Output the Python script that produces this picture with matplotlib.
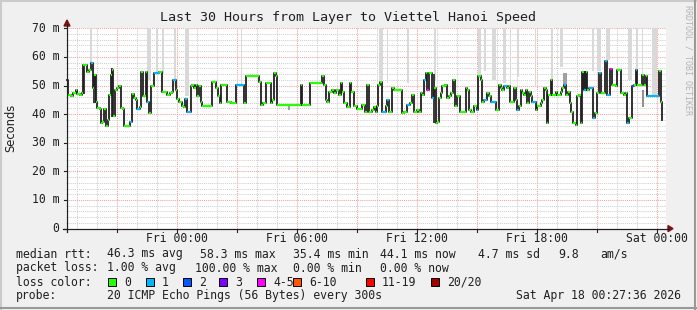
import matplotlib
matplotlib.use('Agg')
import matplotlib.pyplot as plt
from matplotlib.lines import Line2D
from matplotlib.patches import Rectangle, Polygon

W, H = 697, 310
MONO = 'DejaVu Sans Mono'

title = 'Last 30 Hours from Layer to Viettel Hanoi Speed'

# median rtt: minutes after Thu 18:00 -> ms
t_min = [31, 34, 41, 49, 56, 61, 69, 76, 79, 91, 96, 101, 109, 111, 118, 121, 129, 131, 136, 141,
         148, 153, 156, 161, 166, 169, 173, 179, 186, 191, 199, 201, 218, 224, 231, 236, 241, 249, 253, 257,
         261, 266, 271, 276, 283, 291, 306, 316, 331, 339, 346, 349, 356, 361, 366, 371, 376, 381, 384, 391,
         401, 406, 411, 416, 421, 426, 431, 436, 466, 476, 483, 489, 493, 511, 521, 536, 561, 566, 606, 611,
         619, 626, 641, 646, 651, 656, 661, 731, 736, 759, 796, 801, 806, 811, 816, 826, 831, 836, 846, 851,
         856, 861, 871, 879, 883, 891, 901, 916, 924,
         931, 936, 946, 951, 956, 961, 964, 969, 976, 987, 991, 996, 1006, 1011, 1036, 1041, 1051, 1059, 1066, 1071,
         1081, 1086, 1091, 1096, 1101, 1106, 1111, 1116, 1126, 1131, 1136, 1141, 1146, 1151, 1156, 1163, 1169, 1176, 1183, 1187,
         1193, 1201, 1209, 1226, 1231, 1236, 1241, 1251, 1261, 1264, 1271, 1276, 1281, 1289, 1296, 1303, 1316, 1326, 1331, 1336,
         1341, 1349, 1356, 1359, 1371, 1376, 1381, 1386, 1391, 1396, 1401, 1406, 1411, 1416, 1421, 1426, 1436, 1441, 1451, 1456,
         1461, 1466, 1469, 1473, 1481, 1486, 1496, 1501, 1511, 1516, 1521, 1526, 1533, 1539, 1543, 1549, 1556, 1561, 1566, 1573,
         1576, 1581, 1586, 1591, 1596, 1609, 1613, 1621, 1626, 1633, 1643, 1649, 1659, 1666, 1676, 1681, 1691, 1701, 1706, 1711,
         1716, 1726, 1731, 1736, 1741, 1756, 1761, 1766, 1771, 1806, 1812, 1814]
median_ms = [52.0, 46.8, 46.4, 47.3, 48.3, 47.1, 46.8, 47.3, 57.0, 54.6, 55.5, 57.8, 49.1, 53.8, 44.4, 42.1, 41.7, 36.8, 37.4, 41.7,
             35.7, 38.0, 46.8, 53.8, 55.5, 39.2, 48.5, 49.1, 49.7, 42.1, 41.7, 35.9, 37.1, 47.1, 45.6, 45.0, 41.7, 42.4, 54.9, 46.2,
             46.4, 54.9, 44.4, 40.3, 49.7, 54.3, 54.6, 47.9, 46.8, 47.3, 47.9, 52.0, 48.5, 45.2, 44.1, 44.4, 42.7, 42.4, 45.2, 40.9,
             49.7, 50.3, 49.1, 50.3, 46.2, 49.7, 44.4, 42.7, 51.1, 49.1, 46.2, 43.8, 50.3, 44.4, 43.8, 50.3, 43.8, 53.2, 51.1, 43.3,
             43.8, 50.8, 43.8, 45.0, 54.3, 53.2, 43.3, 50.3, 43.3, 50.8, 53.2, 50.3, 45.0, 44.4, 47.9, 48.3, 47.3, 48.3, 46.8, 50.8,
             47.9, 43.8, 42.4, 50.8, 47.9, 42.7, 41.7, 43.3, 40.9,
             50.3, 40.9, 41.5, 42.4, 40.6, 42.7, 50.3, 51.1, 40.9, 42.7, 45.0, 40.9, 49.1, 48.5, 40.3, 40.9, 43.3, 43.8, 46.8, 40.9,
             41.5, 40.9, 47.3, 46.8, 52.0, 54.3, 48.5, 54.3, 45.6, 49.1, 36.8, 37.4, 45.6, 47.3, 49.7, 50.3, 45.6, 46.2, 47.3, 52.0,
             42.7, 46.2, 40.9, 49.1, 48.5, 41.5, 40.9, 42.7, 41.5, 53.2, 52.0, 44.4, 45.0, 47.3, 46.2, 44.4, 41.5, 50.3, 49.1, 48.5,
             49.7, 49.1, 49.7, 44.4, 49.1, 45.0, 41.5, 42.7, 48.5, 47.3, 46.8, 48.5, 43.8, 47.9, 46.2, 44.4, 41.5, 42.7, 43.8, 45.0,
             49.1, 48.5, 36.8, 46.8, 52.0, 46.8, 47.9, 46.8, 47.9, 49.1, 50.3, 46.8, 47.9, 43.8, 40.9, 36.8, 36.3, 46.2, 46.8, 36.8,
             54.9, 48.5, 54.9, 48.5, 49.1, 38.6, 40.3, 47.3, 54.3, 47.3, 58.4, 46.8, 55.8, 50.3, 49.7, 55.5, 47.3, 46.8, 47.3, 36.8,
             38.6, 49.7, 50.3, 55.5, 50.3, 53.8, 50.3, 53.2, 46.2, 55.0, 44.4, 38.0]
t_stop = 1815

# steps with lost pings (minute, pings lost out of 20)
loss_t = [101, 218, 241, 271, 291, 349, 384, 391, 536, 976, 991, 1051, 1101, 1111, 1126, 1261, 1281, 1303,
          1341, 1381, 1426, 1521, 1581, 1596, 1609, 1626, 1643, 1649, 1659, 1711, 1726, 1736, 1771]
loss_n = [1, 1, 1, 1, 1, 1, 1, 1, 1, 1, 1, 1, 1, 4, 1, 1, 1, 1,
          1, 1, 1, 1, 1, 1, 1, 1, 1, 1, 4, 1, 2, 1, 1]

# light smoke: slow pings reaching past the top of the graph
out_t0 = [98, 270, 297, 315, 351, 384, 552, 966, 990, 1050, 1131, 1263, 1281, 1305, 1338, 1359, 1380, 1434,
          1482, 1509, 1605, 1620, 1647, 1713, 1737, 1755, 1785]
out_t1 = [104, 282, 304, 321, 357, 396, 555, 978, 994, 1056, 1137, 1272, 1287, 1317, 1347, 1362, 1386, 1437,
          1488, 1518, 1611, 1632, 1659, 1725, 1743, 1758, 1800]
out_lo = [58, 52, 54.5, 54, 50, 46.5, 50.5, 52, 51, 51, 52, 52.5, 55, 52, 51, 50, 53, 50,
          51, 56.5, 55, 55, 59, 52, 55.5, 53, 46.5]

# dark smoke close to the median
dark_t0 = [79, 109, 161, 1129, 1575, 693, 1517, 1755]
dark_t1 = [84, 116, 169, 1134, 1588, 699, 1529, 1760]
dark_lo = [47, 44, 39, 37, 48.5, 41.5, 49.5, 42.5]
dark_hi = [57.5, 54, 56, 54, 55, 43.3, 54.5, 48.5]
dark_col = ['#3c3c3c', '#3c3c3c', '#3c3c3c', '#3c3c3c', '#3c3c3c', '#a0a0a0', '#a0a0a0', '#909090']

x_start, x_end = 27.6, 1827.6       # Thu 18:27:36 .. Sat 00:27:36
tick_min = [360, 720, 1080, 1440, 1800]
tick_labels = ['Fri 00:00', 'Fri 06:00', 'Fri 12:00', 'Fri 18:00', 'Sat 00:00']
y_ticks = [0, 10, 20, 30, 40, 50, 60, 70]
y_labels = ['0', '10 m', '20 m', '30 m', '40 m', '50 m', '60 m', '70 m']

loss_names = ['0', '1', '2', '3', '4-5', '6-10', '11-19', '20/20']
loss_upper = [0, 1, 2, 3, 5, 10, 19, 20]
loss_colors = ['#26ff00', '#00b8ff', '#0059ff', '#7e00ff', '#ff00ff', '#ff5500', '#ff0000', '#a00000']

rtt_items = ['median rtt:', '46.3 ms avg', '58.3 ms max', '35.4 ms min', '44.1 ms now', '4.7 ms sd', '9.8', 'am/s']
rtt_x = [16, 107, 200, 293, 380, 478, 558, 600]
pl_items = ['packet loss:', '1.00 % avg', '100.00 % max', '0.00 % min', '0.00 % now']
pl_x = [16, 107, 195, 293, 380]
probe = '20 ICMP Echo Pings (56 Bytes) every 300s'
stamp = 'Sat Apr 18 00:27:36 2026'


def fx(x):
    return x / W


def fy(y):
    return 1 - y / H


def loss_color(n):
    for up, c in zip(loss_upper, loss_colors):
        if n <= up:
            return c
    return loss_colors[-1]


fig = plt.figure(figsize=(W / 100, H / 100), dpi=100, facecolor='#f0f0f0')

# frame (rrdtool style shading)
fig.add_artist(Line2D([fx(1), fx(1)], [fy(0), fy(H)], color='#cbcbcb', lw=1.5))
fig.add_artist(Line2D([fx(0), fx(W)], [fy(1), fy(1)], color='#cbcbcb', lw=1.5))
fig.add_artist(Line2D([fx(W - 2), fx(W - 2)], [fy(0), fy(H)], color='#999999', lw=1.5))
fig.add_artist(Line2D([fx(0), fx(W)], [fy(H - 2), fy(H - 2)], color='#999999', lw=1.5))

x0, x1 = 66.2, 666.2
y_top, y_bot = 28.3, 228.6
ax = fig.add_axes([fx(x0), fy(y_bot), (x1 - x0) / W, (y_bot - y_top) / H])
ax.set_facecolor('white')
ax.set_xlim(x_start, x_end)
ax.set_ylim(0, 70)
for s in ax.spines.values():
    s.set_visible(False)
ax.set_xticks([])
ax.set_yticks([])

dot = (0, (1, 1))
for m in range(60, 1860, 60):
    if m % 180 == 0:
        ax.axvline(m, color='#f2a0a0', lw=0.75, ls=dot, zorder=1)
    else:
        ax.axvline(m, color='#cfcfcf', lw=0.75, ls=dot, zorder=1)
for v in range(2, 71, 2):
    if v % 10 == 0:
        ax.axhline(v, color='#f2a0a0', lw=0.75, ls=dot, zorder=1)
    else:
        ax.axhline(v, color='#cfcfcf', lw=0.75, ls=dot, zorder=1)

# smoke
ax.bar(out_t0, [75 - lo for lo in out_lo], width=[b - a for a, b in zip(out_t0, out_t1)],
       bottom=out_lo, align='edge', color='#d9d9d9', lw=0, zorder=2)
ax.bar(dark_t0, [h - l for l, h in zip(dark_lo, dark_hi)], width=[b - a for a, b in zip(dark_t0, dark_t1)],
       bottom=dark_lo, align='edge', color=dark_col, lw=0, zorder=3)

# median: black connections, loss coloured steps
t_next = t_min[1:] + [t_stop]
ax.step(t_min + [t_stop], median_ms + [median_ms[-1]], where='post', color='#202020', lw=1.3, zorder=4)
loss = dict(zip(loss_t, loss_n))
cols = [loss_color(loss.get(t, 0)) for t in t_min]
ax.hlines(median_ms[:-1], t_min[:-1], t_next[:-1], colors=cols[:-1], lw=1.6, zorder=5)

# axes lines with arrows
fig.add_artist(Line2D([fx(63), fx(669)], [fy(y_bot), fy(y_bot)], color='#202020', lw=0.9))
fig.add_artist(Line2D([fx(x0 + 0.8), fx(x0 + 0.8)], [fy(232), fy(24)], color='#202020', lw=0.9))
fig.add_artist(Polygon([[fx(668), fy(y_bot - 3)], [fx(668), fy(y_bot + 3)], [fx(673), fy(y_bot)]],
                       closed=True, color='#7f1010', transform=fig.transFigure))
fig.add_artist(Polygon([[fx(x0 - 2.2), fy(26)], [fx(x0 + 3.8), fy(26)], [fx(x0 + 0.8), fy(20)]],
                       closed=True, color='#7f1010', transform=fig.transFigure))

# ticks and labels
for m in range(180, 1860, 180):
    x = x0 + (m - x_start) / (x_end - x_start) * (x1 - x0)
    fig.add_artist(Line2D([fx(x), fx(x)], [fy(y_bot), fy(y_bot + 3)], color='#202020', lw=0.8))
for m, lab in zip(tick_min, tick_labels):
    x = x0 + (m - x_start) / (x_end - x_start) * (x1 - x0)
    fig.text(fx(x), fy(238), lab, family=MONO, fontsize=8.3, ha='center', va='center', color='#202020')
for v, lab in zip(y_ticks, y_labels):
    y = y_bot - v / 70 * (y_bot - y_top)
    fig.add_artist(Line2D([fx(x0 - 2), fx(x0)], [fy(y), fy(y)], color='#202020', lw=0.8))
    fig.text(fx(59.5), fy(y), lab, family=MONO, fontsize=8.3, ha='right', va='center', color='#202020')

fig.text(fx(348), fy(18), title, family=MONO, fontsize=9.6, ha='center', va='center', color='#202020')
fig.text(fx(10.5), fy(128), 'Seconds', fontsize=8.3, rotation=90, ha='center', va='center', color='#202020')
fig.text(fx(688), fy(5), 'RRDTOOL / TOBI OETIKER', family=MONO, fontsize=6, rotation=270,
         ha='center', va='top', color='#b4b4b4')

# legend rows
for x, s in zip(rtt_x, rtt_items):
    fig.text(fx(x), fy(254), s, family=MONO, fontsize=8.3, ha='left', va='center', color='#202020')
for x, s in zip(pl_x, pl_items):
    fig.text(fx(x), fy(268), s, family=MONO, fontsize=8.3, ha='left', va='center', color='#202020')
fig.text(fx(16), fy(282), 'loss color:', family=MONO, fontsize=8.3, ha='left', va='center', color='#202020')
sq_x = [108, 146, 183, 219, 257, 293, 366, 431]
for x, name, c in zip(sq_x, loss_names, loss_colors):
    fig.add_artist(Rectangle((fx(x), fy(286)), 8 / W, 8 / H, facecolor=c, edgecolor='#000000',
                             lw=0.7, transform=fig.transFigure))
    fig.text(fx(x + 16), fy(282), name, family=MONO, fontsize=8.3, ha='left', va='center', color='#202020')
fig.text(fx(16), fy(296), 'probe:', family=MONO, fontsize=8.3, ha='left', va='center', color='#202020')
fig.text(fx(107), fy(296), probe, family=MONO, fontsize=8.3, ha='left', va='center', color='#202020')
fig.text(fx(681), fy(296), stamp, family=MONO, fontsize=8.3, ha='right', va='center', color='#202020')

fig.savefig('out.png', dpi=100, facecolor=fig.get_facecolor())
